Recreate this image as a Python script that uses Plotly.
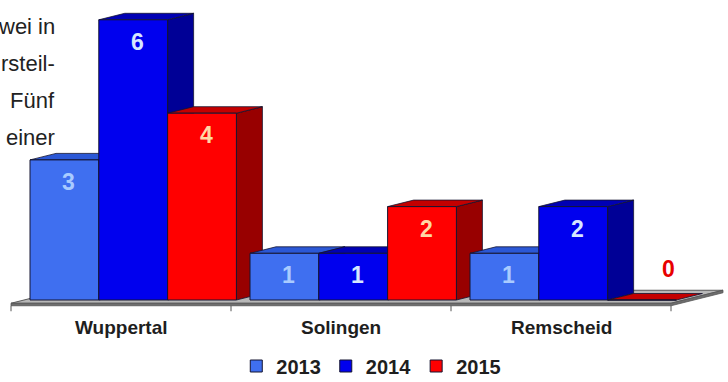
import plotly.graph_objects as go

# ---------------- data ----------------
categories = ["Wuppertal", "Solingen", "Remscheid"]
years = ["2013", "2014", "2015"]
values_2013 = [3, 1, 1]
values_2014 = [6, 1, 2]
values_2015 = [4, 2, 0]
series = [values_2013, values_2014, values_2015]

side_text = ["wei in", "rsteil-", "Fünf", "einer"]

# ---------------- styles ----------------
front_colors = ["#3f6ff0", "#0000ee", "#ff0000"]
top_colors = ["#2b58d6", "#0000b4", "#c40000"]
side_colors = ["#1f46b8", "#000096", "#980000"]
label_colors = ["#a9cbff", "#d6e6ff", "#ffd6a4"]
zero_label_color = "#e80000"
edge_color = "#141430"
FONT = "Liberation Sans, Arial, sans-serif"

W, H = 728, 382
PX_PER_X = 220.0     # pixels per category slot
X0_PX = 121.0        # pixel of category 0 centre
PX_PER_Y = 46.7      # pixels per unit of value
Y0_PX = 300.0        # pixel of value 0 (bar front plane)

x_range = [(0 - X0_PX) / PX_PER_X, (W - X0_PX) / PX_PER_X]
y_range = [-(H - Y0_PX) / PX_PER_Y, Y0_PX / PX_PER_Y]

DX = 26 / PX_PER_X          # depth offset (x)
DY = 6.5 / PX_PER_Y         # depth offset (y)
BAR_W = 68.8 / PX_PER_X
GROUP_START = -0.4136
SLAB = 2.5 / PX_PER_Y
TICK = 5.5 / PX_PER_Y

fig = go.Figure()

# ---------------- floor ----------------
n = len(categories)
fl, fr = -0.5, n - 0.5
fy = -0.5 * DY
floor_x = [fl, fr, fr + 2 * DX, fl + 2 * DX, fl]
floor_y = [fy, fy, fy + 2 * DY, fy + 2 * DY, fy]
fig.add_trace(go.Scatter(x=floor_x, y=floor_y, fill="toself", fillcolor="#b8b8b8",
                         mode="lines", line=dict(color="#5a5a5a", width=1),
                         hoverinfo="skip", showlegend=False, zorder=0))
# slab front + right edge
fig.add_trace(go.Scatter(x=[fl, fr, fr + 2 * DX, fr + 2 * DX, fr, fl, fl],
                         y=[fy, fy, fy + 2 * DY, fy + 2 * DY - SLAB, fy - SLAB, fy - SLAB, fy],
                         fill="toself", fillcolor="#6e6e6e", mode="lines",
                         line=dict(color="#555555", width=0.8),
                         hoverinfo="skip", showlegend=False, zorder=0))
# ticks at category boundaries
tx, ty = [], []
for k in range(n + 1):
    xb = -0.5 + k
    tx += [xb, xb, None]
    ty += [fy - SLAB, fy - SLAB - TICK, None]
fig.add_trace(go.Scatter(x=tx, y=ty, mode="lines", line=dict(color="#555555", width=1),
                         hoverinfo="skip", showlegend=False, zorder=0))

# ---------------- 3D faces (sides and tops) ----------------
for i in range(n):
    for j, vals in enumerate(series):
        v = vals[i]
        xl = i + GROUP_START + j * BAR_W
        xr = xl + BAR_W
        if v > 0:
            fig.add_trace(go.Scatter(
                x=[xr, xr + DX, xr + DX, xr, xr],
                y=[0, DY, v + DY, v, 0],
                fill="toself", fillcolor=side_colors[j], mode="lines",
                line=dict(color=edge_color, width=0.8),
                hoverinfo="skip", showlegend=False, zorder=0))
        fig.add_trace(go.Scatter(
            x=[xl, xr, xr + DX, xl + DX, xl],
            y=[v, v, v + DY, v + DY, v],
            fill="toself", fillcolor=top_colors[j], mode="lines",
            line=dict(color=edge_color, width=0.8),
            hoverinfo="skip", showlegend=False, zorder=0))

# ---------------- front faces (real bars) ----------------
for j, vals in enumerate(series):
    fig.add_trace(go.Bar(
        x=list(range(n)), y=vals, name="<b>" + years[j] + "</b>",
        width=BAR_W, offset=GROUP_START + j * BAR_W,
        marker=dict(color=front_colors[j], line=dict(color=edge_color, width=1)),
        zorder=1))

# ---------------- value labels ----------------
annotations = []
for i in range(n):
    for j, vals in enumerate(series):
        v = vals[i]
        xc = i + GROUP_START + (j + 0.5) * BAR_W
        if v > 0:
            annotations.append(dict(x=xc, y=v, xref="x", yref="y", text="<b>%d</b>" % v,
                                    showarrow=False, xshift=4, yshift=-22,
                                    font=dict(family=FONT, size=23, color=label_colors[j])))
        else:
            annotations.append(dict(x=xc, y=v, xref="x", yref="y", text="<b>%d</b>" % v,
                                    showarrow=False, xshift=26, yshift=31,
                                    font=dict(family=FONT, size=23, color=zero_label_color)))

# category labels
for i, c in enumerate(categories):
    annotations.append(dict(x=i, y=-(327 - Y0_PX) / PX_PER_Y, xref="x", yref="y",
                            text="<b>" + c + "</b>", showarrow=False,
                            font=dict(family=FONT, size=19, color="#1e1e1e")))

# fragments of surrounding page text
for k, t in enumerate(side_text):
    annotations.append(dict(x=57 / W, y=1 - (27 + 36.7 * k) / H, xref="paper", yref="paper",
                            xanchor="right", yanchor="middle", text=t, showarrow=False,
                            font=dict(family=FONT, size=22, color="#222222")))

fig.update_layout(
    width=W, height=H,
    margin=dict(l=0, r=0, t=0, b=0, autoexpand=False),
    paper_bgcolor="white", plot_bgcolor="white",
    barmode="overlay",
    xaxis=dict(range=x_range, visible=False, fixedrange=True),
    yaxis=dict(range=y_range, visible=False, fixedrange=True),
    annotations=annotations,
    showlegend=True,
    legend=dict(orientation="h", x=0.51, xanchor="center", y=(H - 366) / H, yanchor="middle",
                font=dict(family=FONT, size=20, color="#1e1e1e"),
                itemwidth=30, bgcolor="rgba(0,0,0,0)", traceorder="normal"),
)

fig.write_html("out.html")
